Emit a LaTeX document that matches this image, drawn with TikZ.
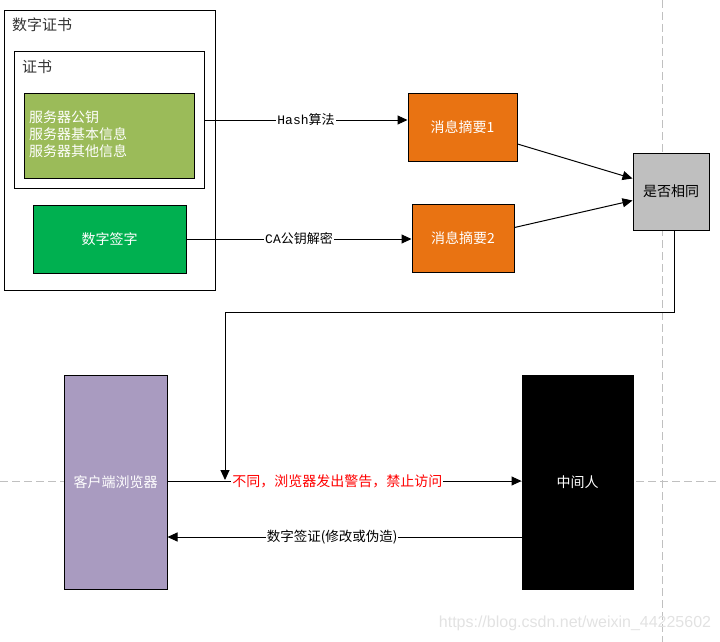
\documentclass[tikz,border=0pt]{standalone}
\usepackage{fontspec}
\setmainfont{Noto Sans CJK SC}
\newfontfamily\latinmono{Liberation Mono}
\newfontfamily\wmfont{Liberation Sans}
\usetikzlibrary{arrows.meta}
\definecolor{olivegreen}{HTML}{9BBB59}
\definecolor{sigreen}{HTML}{00B050}
\definecolor{digorange}{HTML}{E97312}
\definecolor{cmpgray}{HTML}{BFBFBF}
\definecolor{clientpurple}{HTML}{A99BC0}
\definecolor{guidegray}{HTML}{C0C0C0}
\definecolor{wmgray}{HTML}{E2E2E2}
\definecolor{titlegray}{HTML}{333333}
\tikzset{
  box/.style={draw=black, line width=1pt, inner sep=0pt, minimum width=#1},
  box/.default=10pt,
  ftext/.style={font=\fontsize{14}{17}\selectfont},
  ttext/.style={font=\fontsize{15}{17}\selectfont, text=titlegray, anchor=west, inner sep=0pt},
  conn/.style={draw=black, line width=1pt, -{Triangle[length=10pt,width=9pt]}},
  lbl/.style={fill=white, inner sep=1pt, font=\fontsize{13}{15}\selectfont},
  guide/.style={draw=guidegray, line width=1pt, dash pattern=on 8pt off 4pt},
}
\begin{document}
\begin{tikzpicture}[x=1pt,y=-1pt]
\useasboundingbox (0,0) rectangle (720,642);
% guide lines
\coordinate (vtop) at (662,0);
\coordinate (vbot) at (662,642);
\coordinate (hl) at (0,481);
\coordinate (hr) at (720,481);
\draw[guide] (vtop) -- (vbot);
\draw[guide] (hl) -- (hr);
% certificate boxes
\node[box, minimum width=211pt, minimum height=279pt, fill=white] (outer) at (109.5,150.5) {};
\node[ttext] (outert) at (12,25) {数字证书};
\node[box, minimum width=190pt, minimum height=136pt, fill=white] (inner) at (109,120) {};
\node[ttext] (innert) at (22,67) {证书};
\node[box, minimum width=170pt, minimum height=85pt, fill=olivegreen] (info) at (109,135.5) {};
\node[ftext, text=white, anchor=west, align=left, inner sep=0pt] (infot) at (29,134.5) {服务器公钥\\服务器基本信息\\服务器其他信息};
\node[box, minimum width=153pt, minimum height=68pt, fill=sigreen, ftext, text=white] (sig) at (109.5,239) {数字签字};
% digests
\node[box, minimum width=109pt, minimum height=68pt, fill=digorange, ftext, text=white] (d1) at (462.5,127) {消息摘要1};
\node[box, minimum width=102pt, minimum height=68pt, fill=digorange, ftext, text=white] (d2) at (463,238.5) {消息摘要2};
\node[box, minimum width=76pt, minimum height=77pt, fill=cmpgray, ftext, text=black] (cmp) at (671,191.5) {是否相同};
% client / attacker
\node[box, minimum width=103pt, minimum height=214pt, fill=clientpurple, ftext, text=white] (client) at (115.5,482) {客户端浏览器};
\node[box, minimum width=111pt, minimum height=214pt, fill=black, ftext, text=white] (mitm) at (577.5,482) {中间人};
% connectors
\draw[conn] (inner.east) -- (inner.east -| d1.west)
  node[lbl, pos=0.5] {{\latinmono Hash}算法};
\draw[conn] (sig.east) -- (sig.east -| d2.west)
  node[lbl, pos=0.5] {{\latinmono CA}公钥解密};
\draw[conn] ([yshift=-17pt]d1.east) -- ([yshift=13pt]cmp.west);
\draw[conn] ([yshift=11pt]d2.east) -- ([yshift=-9pt]cmp.west);
\coordinate (bend) at (225,312);
\coordinate (drop) at (225,480);
\draw[conn] ([xshift=3pt]cmp.south) |- (bend) -- (drop);
\draw[conn] (client.east |- hl) -- (mitm.west |- hl)
  node[lbl, pos=0.48, text=red, font=\fontsize{14}{16}\selectfont] {不同，浏览器发出警告，禁止访问};
\draw[conn] ([yshift=-55pt]mitm.west) -- ([yshift=-55pt]client.east)
  node[lbl, pos=0.535, font=\fontsize{13.5}{15}\selectfont] {数字签证(修改或伪造)};
% watermark
\node[text=wmgray, font=\wmfont\fontsize{16}{18}\selectfont] (wm) at (575,623) {https://blog.csdn.net/weixin\_44225602};
\end{tikzpicture}
\end{document}
